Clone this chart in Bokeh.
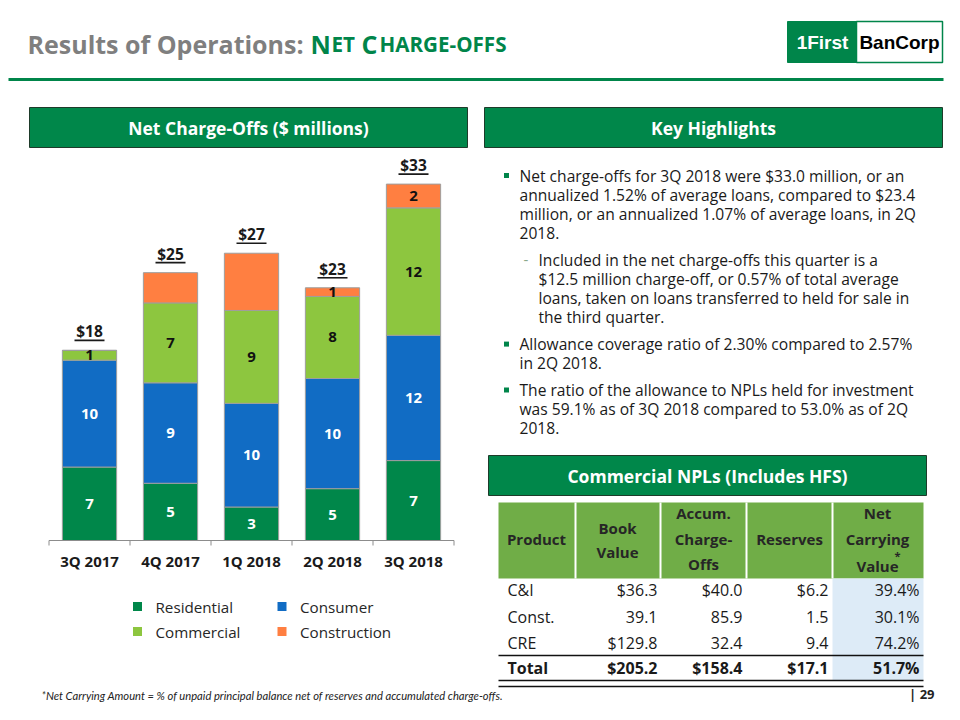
from bokeh.plotting import figure
from bokeh.models import Range1d, ColumnDataSource
from bokeh.embed import file_html
from bokeh.resources import INLINE
from bokeh.core.properties import value

# ---------------- data ----------------
quarters = ["3Q 2017", "4Q 2017", "1Q 2018", "2Q 2018", "3Q 2018"]
residential = [6.8, 5.3, 3.1, 4.8, 7.4]
consumer = [9.9, 9.3, 9.6, 10.2, 11.6]
commercial = [0.9, 7.4, 8.6, 7.6, 11.8]
construction = [0.0, 2.8, 5.3, 0.8, 2.2]
construction_labelled = [False, False, False, True, True]
series_names = ["Residential", "Consumer", "Commercial", "Construction"]

products = ["C&I", "Const.", "CRE"]
book_value = [36.3, 39.1, 129.8]
accum_chargeoffs = [40.0, 85.9, 32.4]
reserves = [6.2, 1.5, 9.4]
net_carrying = [39.4, 30.1, 74.2]
book_dollar = [True, False, True]
accum_dollar = [True, False, False]
reserves_dollar = [True, False, False]
total_book = 205.2
total_accum = 158.4
total_reserves = 17.1
total_net_carrying = 51.7

bullets = [
    (0, ["Net charge-offs for 3Q 2018 were $33.0 million, or an",
         "annualized 1.52% of average loans, compared to $23.4",
         "million, or an annualized 1.07% of average loans, in 2Q",
         "2018."]),
    (1, ["Included in the net charge-offs this quarter is a",
         "$12.5 million charge-off, or 0.57% of total average",
         "loans, taken on loans transferred to held for sale in",
         "the third quarter."]),
    (0, ["Allowance coverage ratio of 2.30% compared to 2.57%",
         "in 2Q 2018."]),
    (0, ["The ratio of the allowance to NPLs held for investment",
         "was 59.1% as of 3Q 2018 compared to 53.0% as of 2Q",
         "2018."]),
]

# ---------------- style ----------------
FONT = "Open Sans"
GREEN = "#00854A"
series_colors = ["#00874A", "#116CC4", "#8DC63F", "#FF7F41"]
label_colors = ["#FFFFFF", "#FFFFFF", "#111111", "#111111"]
TXT = "#1A1A1A"

W, H = 944, 704
p = figure(width=W, height=H, x_range=Range1d(0, W), y_range=Range1d(H, 0),
           output_backend="svg", toolbar_location=None, min_border=0,
           x_axis_type=None, y_axis_type=None, outline_line_color=None,
           background_fill_color="white", border_fill_color="white")
p.xgrid.visible = False
p.ygrid.visible = False

def txt(x, y, t, size, color=TXT, style="normal", align="left", baseline="middle", font=FONT, **kw):
    p.text(x=[x], y=[y], text=[t], text_font=value(font), text_font_size=size,
           text_font_style=style, text_color=color, text_align=align,
           text_baseline=baseline, **kw)

# ---------------- title ----------------
txt(27, 43, "Results of Operations:", "25px", color="#7F7F7F", style="bold", baseline="alphabetic")
txt(310, 43, "N", "25px", color=GREEN, style="bold", baseline="alphabetic")
txt(331, 43, "ET", "20.6px", color=GREEN, style="bold", baseline="alphabetic")
txt(361, 43, "C", "25px", color=GREEN, style="bold", baseline="alphabetic")
txt(379, 43, "HARGE-OFFS", "20.6px", color=GREEN, style="bold", baseline="alphabetic")
p.segment(x0=[8], y0=[79], x1=[943], y1=[79], line_color=GREEN, line_width=3)

# logo
p.quad(left=[787], right=[856], top=[21], bottom=[62], fill_color=GREEN, line_color=GREEN)
p.quad(left=[856], right=[942], top=[21], bottom=[62], fill_color="white", line_color=GREEN, line_width=1.5)
txt(822, 42, "1First", "19px", color="white", style="bold", align="center", font="Liberation Sans")
txt(899, 42, "BanCorp", "19px", color="black", style="bold", align="center", font="Liberation Sans")

# ---------------- section headers ----------------
def header(l, r, t, b, label):
    p.quad(left=[l], right=[r], top=[t], bottom=[b], fill_color="#00874A", line_color="#1E3B2A", line_width=1)
    txt((l + r) / 2, (t + b) / 2, label, "17.5px", color="white", style="bold", align="center")

header(29, 467, 107, 147, "Net Charge-Offs ($ millions)")
header(484, 942, 107, 147, "Key Highlights")
header(488, 926, 455, 495, "Commercial NPLs (Includes HFS)")

# ---------------- bar chart ----------------
PX = 10.8        # pixels per $ million
BASE_Y = 540     # baseline pixel row
CAT0 = 89        # first category centre pixel
STEP = 81        # category spacing in pixels
p.extra_y_ranges = {"cy": Range1d((BASE_Y - H) / PX, BASE_Y / PX)}
p.extra_x_ranges = {"cx": Range1d(-CAT0 / STEP, (W - CAT0) / STEP)}

n = len(quarters)
xs = list(range(n))
data = dict(x=xs, Residential=residential, Consumer=consumer,
            Commercial=commercial, Construction=construction)
src = ColumnDataSource(data)
p.vbar_stack(series_names, x="x", width=0.67, fill_color=series_colors,
             line_color="#9E9E9E", line_width=1, source=src,
             x_range_name="cx", y_range_name="cy")

bottom = [0.0] * n
for j, name in enumerate(series_names):
    vals = data[name]
    lx, ly, lt = [], [], []
    for i in range(n):
        show = vals[i] > 0 and (name != "Construction" or construction_labelled[i])
        if show:
            lx.append(xs[i])
            ly.append(bottom[i] + vals[i] / 2)
            lt.append(f"{vals[i]:.0f}")
    p.text(x=lx, y=ly, text=lt, text_font=value(FONT), text_font_size="15px",
           text_font_style="bold", text_color=label_colors[j], text_align="center",
           text_baseline="middle", x_range_name="cx", y_range_name="cy")
    bottom = [b + v for b, v in zip(bottom, vals)]

totals = bottom
p.text(x=xs, y=[t + 19 / PX for t in totals], text=[f"${t:.0f}" for t in totals],
       text_font=value(FONT), text_font_size="15.5px", text_font_style="bold",
       text_color=TXT, text_align="center", text_baseline="middle",
       x_range_name="cx", y_range_name="cy")
p.rect(x=xs, y=[t + 10 / PX for t in totals], width=30, height=1.6,
       width_units="screen", height_units="screen", fill_color=TXT, line_color=None,
       x_range_name="cx", y_range_name="cy")

# category axis
p.segment(x0=[-0.5], y0=[0], x1=[n - 0.5], y1=[0], line_color="#8C8C8C", line_width=1,
          x_range_name="cx", y_range_name="cy")
bounds = [i - 0.5 for i in range(n + 1)]
p.segment(x0=bounds, y0=[0] * (n + 1), x1=bounds, y1=[-5 / PX] * (n + 1),
          line_color="#8C8C8C", line_width=1, x_range_name="cx", y_range_name="cy")
p.text(x=xs, y=[-20 / PX] * n, text=quarters, text_font=value(FONT),
       text_font_size="15px", text_font_style="bold", text_color=TXT,
       text_align="center", text_baseline="middle", x_range_name="cx", y_range_name="cy")

# legend
leg_x = [137, 281.5]
leg_y = [606, 631]
for j, name in enumerate(series_names):
    cx_, cy_ = leg_x[j % 2], leg_y[j // 2]
    p.scatter(x=[cx_], y=[cy_], marker="square", size=9, fill_color=series_colors[j],
              line_color=None)
    txt(cx_ + 18, cy_, name, "15.2px", color="#262626")

# ---------------- key highlights ----------------
y = 175
LINE = 19.2
for level, lines in bullets:
    if level == 0:
        p.scatter(x=[506], y=[y], marker="square", size=5, fill_color=GREEN, line_color=None)
        tx = 519
    else:
        txt(523, y, "-", "15px", color="#8AA88A")
        tx = 538
    for k, line in enumerate(lines):
        txt(tx, y + k * LINE, line, "15.6px")
    y += len(lines) * LINE + 7.5

# ---------------- table ----------------
col_edges = [498, 575, 660, 746, 832, 923]
p.quad(left=[col_edges[0]], right=[col_edges[-1]], top=[502], bottom=[578],
       fill_color="#70AD47", line_color=None)
p.segment(x0=col_edges[1:-1], y0=[502] * 4, x1=col_edges[1:-1], y1=[578] * 4,
          line_color="white", line_width=2)
p.quad(left=[col_edges[4]], right=[col_edges[5]], top=[578], bottom=[680],
       fill_color="#DDEBF7", line_color=None)

HC = "#262626"
hdr = [
    (536, ["Product"], [538]),
    (617, ["Book", "Value"], [527, 551]),
    (703, ["Accum.", "Charge-", "Offs"], [512, 538, 563]),
    (789, ["Reserves"], [538]),
    (877, ["Net", "Carrying", "Value"], [512, 538, 565]),
]
for cxh, lines, ys in hdr:
    for t, yy in zip(lines, ys):
        txt(cxh, yy, t, "15px", color=HC, style="bold", align="center")
txt(897, 555, "*", "11px", color=HC, style="bold", align="center")

def money(v, dollar):
    return ("$" if dollar else "") + f"{v:.1f}"

row_y = [589, 616, 642]
right_x = [657, 742, 828, 919]
for i, prod in enumerate(products):
    yy = row_y[i]
    txt(507, yy, prod, "16px")
    txt(right_x[0], yy, money(book_value[i], book_dollar[i]), "16px", align="right")
    txt(right_x[1], yy, money(accum_chargeoffs[i], accum_dollar[i]), "16px", align="right")
    txt(right_x[2], yy, money(reserves[i], reserves_dollar[i]), "16px", align="right")
    txt(right_x[3], yy, f"{net_carrying[i]:.1f}%", "16px", align="right")

ty = 667
txt(507, ty, "Total", "16px", style="bold")
txt(right_x[0], ty, money(total_book, True), "16px", style="bold", align="right")
txt(right_x[1], ty, money(total_accum, True), "16px", style="bold", align="right")
txt(right_x[2], ty, money(total_reserves, True), "16px", style="bold", align="right")
txt(right_x[3], ty, f"{total_net_carrying:.1f}%", "16px", style="bold", align="right")

p.segment(x0=[498, 498, 498], y0=[655, 680, 686], x1=[923, 923, 923], y1=[655, 680, 686],
          line_color="#111111", line_width=1.5)

# ---------------- footer ----------------
txt(41, 695, "*Net Carrying Amount = % of unpaid principal balance net of reserves and accumulated charge-offs.",
    "11.2px", color="#222222", style="italic", font="Lato")
txt(934, 693, "| 29", "13px", color="#222222", style="bold", align="right")

open("out.html", "w").write(file_html(p, INLINE))
